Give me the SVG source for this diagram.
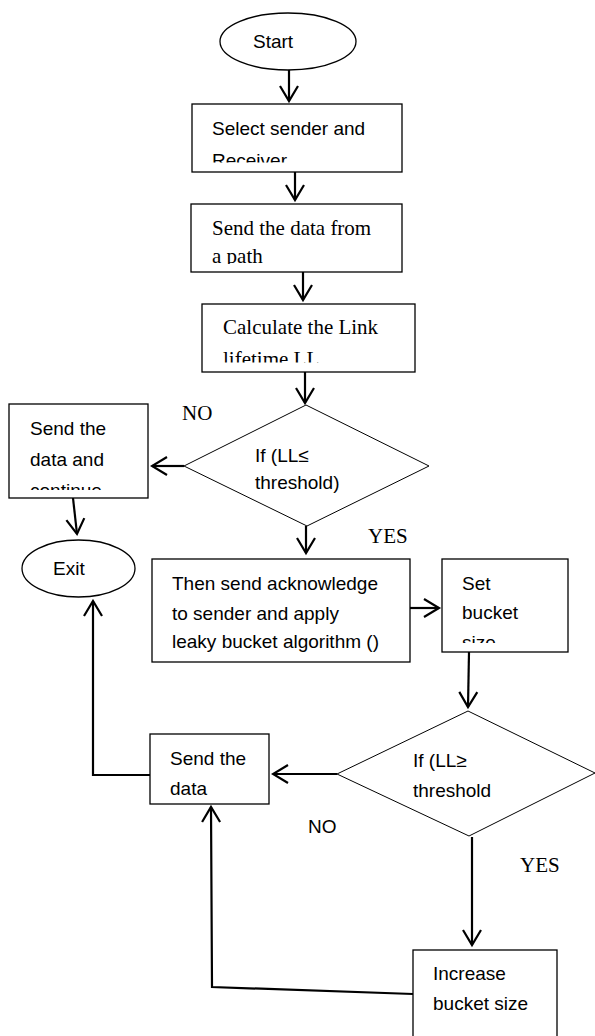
<svg xmlns="http://www.w3.org/2000/svg" width="595" height="1036" viewBox="0 0 595 1036">
<style>
.box{fill:#fff;stroke:#000;stroke-width:1.3}
.dia{fill:#fff;stroke:#000;stroke-width:1}
.sans{font-family:"Liberation Sans",Arial,sans-serif;font-size:19px;fill:#000}
.serif{font-family:"Liberation Serif","Times New Roman",serif;font-size:21px;fill:#000}
.con{fill:none;stroke:#000;stroke-width:2.2;marker-end:url(#arr)}
</style>
<defs>
<marker id="arr" markerUnits="userSpaceOnUse" markerWidth="20" markerHeight="22" viewBox="-17 -11 19 22" refX="0" refY="0" orient="auto">
<path d="M-15,-9 L0,0 L-15,9" fill="none" stroke="#000" stroke-width="2.2"/>
</marker>
<clipPath id="c1"><rect x="192" y="104" width="210" height="58.5"/></clipPath>
<clipPath id="c2"><rect x="191" y="204" width="211" height="60"/></clipPath>
<clipPath id="c3"><rect x="202" y="304" width="213" height="58.5"/></clipPath>
<clipPath id="c4"><rect x="9" y="404" width="139" height="86"/></clipPath>
<clipPath id="c5"><rect x="442" y="559" width="126" height="84"/></clipPath>
</defs>

<g id="connectors">
<path class="con" d="M289,70 L289,101"/>
<path class="con" d="M295,172 L295,200"/>
<path class="con" d="M303,272 L303,300"/>
<path class="con" d="M305,372 L305,403"/>
<path class="con" d="M184,466 L152,466"/>
<path class="con" d="M73,498 L77,534"/>
<path class="con" d="M306,526 L306,553"/>
<path class="con" d="M410,608 L439,608"/>
<path class="con" d="M469,652 L468,707"/>
<path class="con" d="M337,774 L273,774"/>
<path class="con" d="M150,775 L93,775 L93,601"/>
<path class="con" d="M472,837 L472,945"/>
<path class="con" d="M413,994 L212,987 L211,807"/>
</g>

<g id="start">
<ellipse class="box" cx="288" cy="41.5" rx="68" ry="28.5"/>
<text class="sans" x="253" y="48">Start</text>
</g>

<g id="select">
<rect class="box" x="192" y="104" width="210" height="68"/>
<g clip-path="url(#c1)">
<text class="sans" x="212" y="135">Select sender and</text>
<text class="sans" x="212" y="167">Receiver</text>
</g>
</g>

<g id="senddata">
<rect class="box" x="191" y="204" width="211" height="68"/>
<g clip-path="url(#c2)">
<text class="serif" x="212" y="235">Send the data from</text>
<text class="serif" x="212" y="263">a path</text>
</g>
</g>

<g id="calc">
<rect class="box" x="202" y="304" width="213" height="68"/>
<g clip-path="url(#c3)">
<text class="serif" x="223" y="334">Calculate the Link</text>
<text class="serif" x="223" y="366">lifetime LL</text>
</g>
</g>

<g id="dec1">
<polygon class="dia" points="306,405 429,466 307,526 184,466"/>
<text class="sans" x="255" y="462">If (LL≤</text>
<text class="sans" x="255" y="489">threshold)</text>
</g>

<g id="continue">
<rect class="box" x="9" y="404" width="139" height="94"/>
<g clip-path="url(#c4)">
<text class="sans" x="30" y="435">Send the</text>
<text class="sans" x="30" y="466">data and</text>
<text class="sans" x="30" y="497">continue</text>
</g>
</g>

<g id="exit">
<ellipse class="box" cx="78.5" cy="568.5" rx="56.5" ry="28.5"/>
<text class="sans" x="53" y="575">Exit</text>
</g>

<g id="ack">
<rect class="box" x="152" y="559" width="258" height="103"/>
<text class="sans" x="172" y="590">Then send acknowledge</text>
<text class="sans" x="172" y="620">to sender and apply</text>
<text class="sans" x="172" y="648">leaky bucket algorithm ()</text>
</g>

<g id="setbucket">
<rect class="box" x="442" y="559" width="126" height="93"/>
<g clip-path="url(#c5)">
<text class="sans" x="462" y="590">Set</text>
<text class="sans" x="462" y="619">bucket</text>
<text class="sans" x="462" y="649">size</text>
</g>
</g>

<g id="dec2">
<polygon class="dia" points="468,711 595,773 469,836 337,774"/>
<text class="sans" x="413" y="767">If (LL≥</text>
<text class="sans" x="413" y="797">threshold</text>
</g>

<g id="sendthedata">
<rect class="box" x="150" y="734" width="119" height="70"/>
<text class="sans" x="170" y="765">Send the</text>
<text class="sans" x="170" y="795">data</text>
</g>

<g id="increase">
<rect class="box" x="413" y="950" width="144" height="100"/>
<text class="sans" x="433" y="980">Increase</text>
<text class="sans" x="433" y="1010">bucket size</text>
</g>

<g id="labels">
<text class="serif" x="182" y="420">NO</text>
<text class="serif" x="368" y="543">YES</text>
<text class="sans" x="308" y="833">NO</text>
<text class="serif" x="520" y="872">YES</text>
</g>
</svg>
